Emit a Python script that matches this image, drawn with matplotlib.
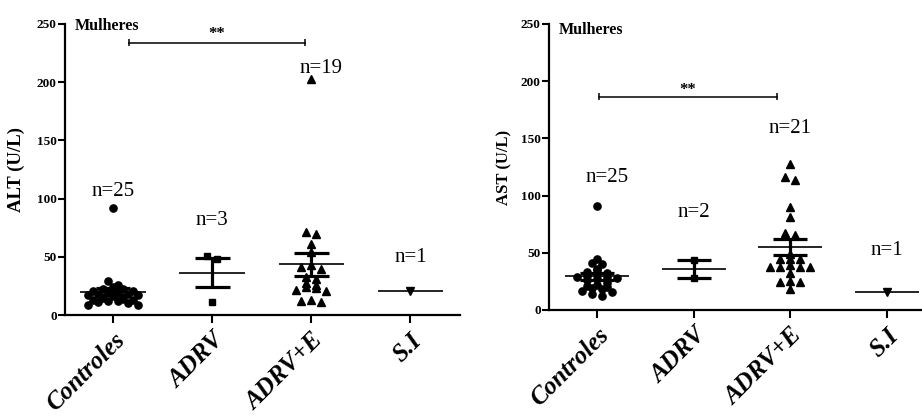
import numpy as np
import matplotlib
matplotlib.use("Agg")
from matplotlib import pyplot as plt

plt.rcParams['font.family'] = ['Liberation Serif', 'DejaVu Serif']

groups = ["Controles", "ADRV", "ADRV+E", "S.I"]
markers = ["o", "s", "^", "v"]
marker_sizes = [5.2, 4.6, 5.2, 5.2]

# ALT (U/L), women
alt_controles = [92, 29, 26, 24, 22, 22, 21, 21, 20, 19, 18, 18, 17, 17, 16,
                 15, 14, 13, 13, 12, 12, 11, 10, 9, 9]
alt_adrv = [50.7, 47.8, 10.9]
alt_adrv_e = [203, 71.6, 69.6, 61, 53.9, 43, 41.5, 39.3, 32.9, 30.7, 27.7,
              25.8, 23.8, 22.9, 21.5, 20.6, 12.9, 12.3, 11.4]
alt_si = [20.9]

# AST (U/L), women
ast_controles = [91, 45, 41, 40, 36, 35, 33, 32, 31, 30, 29, 29, 28, 27, 26,
                 24, 22, 21, 20, 19, 18, 17, 16, 14, 12]
ast_adrv = [43.7, 27.7]
ast_adrv_e = [128, 116, 113.6, 89.8, 81, 67.6, 65.6, 48.7, 44.3, 44.3, 44.3,
              39.3, 37.9, 37.9, 37.9, 37.9, 32, 25.6, 24.8, 24.8, 18.1]
ast_si = [15.5]

alt_data = [alt_controles, alt_adrv, alt_adrv_e, alt_si]
ast_data = [ast_controles, ast_adrv, ast_adrv_e, ast_si]

# n labels: (x, y) in data units
alt_n_pos = [(0, 106), (1, 81), (2.1, 212), (3, 49)]
ast_n_pos = [(0.1, 116), (1, 85), (2, 159), (3, 52)]


def row_scatter(vals, ax, row_px=4.5, step_px=10.0):
    # group close values into rows and spread each row sideways
    fig = ax.figure
    bb = ax.get_position()
    w_px = bb.width * fig.get_figwidth() * fig.dpi
    h_px = bb.height * fig.get_figheight() * fig.dpi
    x0, x1 = ax.get_xlim()
    y0, y1 = ax.get_ylim()
    ypx = np.asarray(vals, dtype=float) * h_px / (y1 - y0)
    step = step_px * (x1 - x0) / w_px
    offs = np.zeros(len(vals))
    order = np.argsort(ypx)
    rows = []
    for i in order:
        if rows and ypx[i] - ypx[rows[-1][0]] <= row_px:
            rows[-1].append(i)
        else:
            rows.append([i])
    for row in rows:
        k = len(row)
        slots = (np.arange(k) - (k - 1) / 2.0) * step
        # highest value of the row in the middle, others outward
        slots = sorted(slots, key=abs)
        for idx, s in zip(sorted(row, key=lambda j: -ypx[j]), slots):
            offs[idx] = s
    return offs


def draw_panel(ax, data, n_pos, ylabel, sig_x, sig_y, star_y, title_y, label_x):
    ax.set_ylim(0, 250)
    for i, vals in enumerate(data):
        offs = row_scatter(vals, ax)
        ax.plot(i + offs, vals, linestyle="none", marker=markers[i],
                markersize=marker_sizes[i], color="black", zorder=3)
        m = np.mean(vals)
        ax.hlines(m, i - 0.33, i + 0.33, color="black", lw=1.2, zorder=4)
        if len(vals) > 1:
            s = np.std(vals, ddof=1) / np.sqrt(len(vals))
            ax.hlines([m - s, m + s], i - 0.175, i + 0.175, color="black",
                      lw=2.3, zorder=4)
            ax.vlines(i, m - s, m + s, color="black", lw=2.3, zorder=4)
        ax.text(n_pos[i][0], n_pos[i][1], "n=%d" % len(vals), ha="center",
                va="center", fontsize=15)

    # significance bar between Controles and ADRV+E
    ax.plot(sig_x, [sig_y, sig_y], color="black", lw=1.1)
    ax.vlines(sig_x, sig_y - 3.3, sig_y + 3.3, color="black", lw=1.1)
    ax.text(np.mean(sig_x), star_y, "**", ha="center", va="center",
            fontsize=12, fontweight="bold")

    ax.text(0.025, title_y, "Mulheres", transform=ax.transAxes, ha="left",
            va="center", fontsize=11.5, fontweight="bold")

    ax.set_yticks([0, 50, 100, 150, 200, 250])
    ax.set_xticks(range(4))
    ax.set_xticklabels(groups, rotation=45, ha="right", rotation_mode="anchor",
                       fontsize=18, fontweight="bold", fontstyle="italic")
    for lab in ax.get_yticklabels():
        lab.set_fontweight("bold")
        lab.set_fontsize(9.5)
    ax.tick_params(axis="y", direction="out", length=5, width=1.5, pad=1)
    ax.tick_params(axis="x", direction="out", length=6, width=1.5, pad=4)
    ax.spines["top"].set_visible(False)
    ax.spines["right"].set_visible(False)
    ax.spines["left"].set_linewidth(1.6)
    ax.spines["bottom"].set_linewidth(1.6)
    ax.set_ylabel(ylabel, fontweight="bold", fontsize=label_x[1])
    ax.yaxis.set_label_coords(label_x[0], 0.5)


fig = plt.figure(figsize=(9.22, 4.17), dpi=100)
ax1 = fig.add_axes([65 / 922, 102 / 417, 395 / 922, 291 / 417])
ax1.set_xlim(-0.485, 3.5)
ax2 = fig.add_axes([549 / 922, 107 / 417, 373 / 922, 286 / 417])
ax2.set_xlim(-0.5, 3.365)

draw_panel(ax1, alt_data, alt_n_pos, "ALT (U/L)", [0.16, 1.94], 234, 241,
           0.993, (-0.101, 13.5))
draw_panel(ax2, ast_data, ast_n_pos, "AST (U/L)", [0.02, 1.86], 186.5, 192,
           0.979, (-0.097, 12))

fig.savefig("out.png", dpi=100)
